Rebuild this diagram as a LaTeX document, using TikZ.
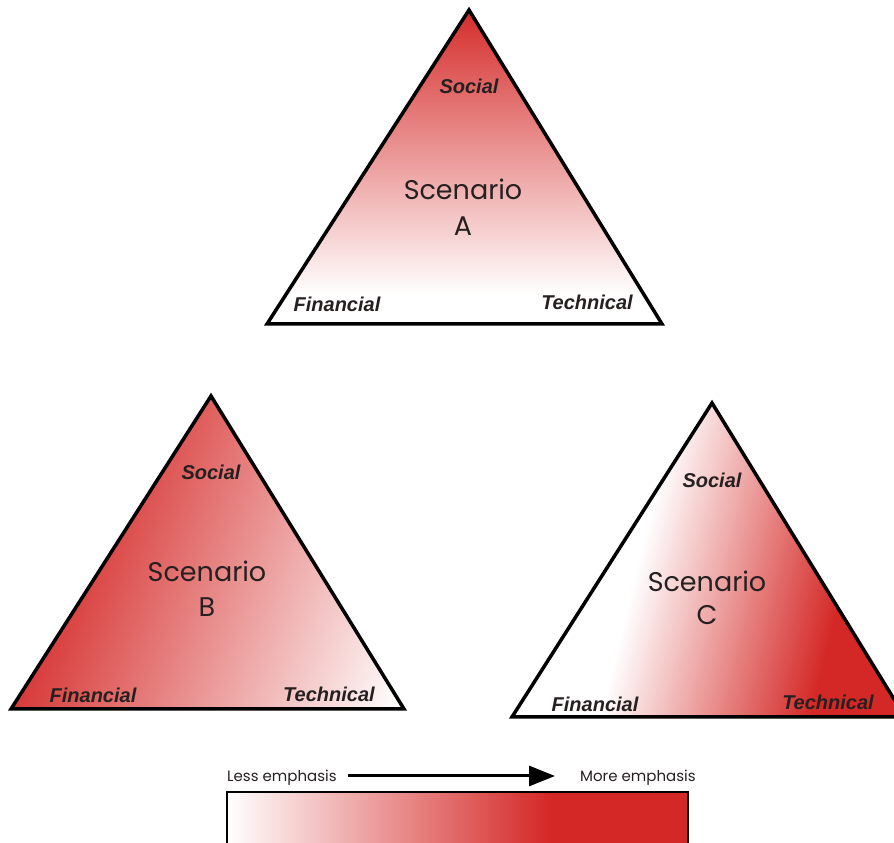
\documentclass[tikz,border=0pt]{standalone}
\usepackage{fontspec}
\setmainfont{Liberation Sans}
\newfontfamily\geo{Poppins}
\usetikzlibrary{arrows.meta}
\definecolor{myred}{RGB}{212,40,38}
\definecolor{txt}{RGB}{38,32,32}
\begin{document}
\begin{tikzpicture}[x=1pt,y=1pt,
  tri/.style={draw=black, line width=3.5pt, line join=miter},
  lbl/.style={font=\fontsize{20}{21}\selectfont\bfseries\itshape, text=txt, anchor=base, inner sep=0pt},
  scen/.style={font=\geo\fontsize{27}{30}\selectfont, text=txt, anchor=base, inner sep=0pt},
  leg/.style={font=\geo\fontsize{15}{16}\selectfont, text=txt, anchor=base west, inner sep=0pt}]
\useasboundingbox (0,0) rectangle (894,843);
\clip (0,0) rectangle (894,843);
% corners
\coordinate (Aa) at (469,833); \coordinate (Al) at (267,519); \coordinate (Ar) at (662,519);
\coordinate (Ba) at (211,447); \coordinate (Bl) at (11,134);  \coordinate (Br) at (404,134);
\coordinate (Ca) at (712,440); \coordinate (Cl) at (512,126); \coordinate (Cr) at (905,126);
% Triangle A
\begin{scope}
  \clip (Aa) -- (Al) -- (Ar) -- cycle;
  \shade[top color=myred, bottom color=white] (267,548) rectangle (662,840);
\end{scope}
\draw[tri] (Aa) -- (Al) -- (Ar) -- cycle;
% Triangle B
\begin{scope}
  \clip (Ba) -- (Bl) -- (Br) -- cycle;
  \fill[myred, transform canvas={shift={(0,843)}, rotate=-22}] (-600,-1200) rectangle (246,1200);
  \shade[transform canvas={shift={(0,843)}, rotate=-22}, left color=myred, right color=white] (245,-1200) rectangle (635,1200);
\end{scope}
\draw[tri] (Ba) -- (Bl) -- (Br) -- cycle;
% Triangle C
\begin{scope}
  \clip (Ca) -- (Cl) -- (Cr) -- cycle;
  \shade[transform canvas={shift={(0,843)}, rotate=-14}, left color=white, right color=myred] (755,-1200) rectangle (960,1200);
  \fill[myred, transform canvas={shift={(0,843)}, rotate=-14}] (959,-1200) rectangle (1600,1200);
\end{scope}
\draw[tri] (Ca) -- (Cl) -- (Cr) -- cycle;
% labels A
\node[lbl] (sA) at (469,749) {Social};
\node[lbl] (fA) at (337,531) {Financial};
\node[lbl] (tA) at (587,533) {Technical};
\node[scen] (scA) at (463,643) {Scenario};
\node[scen] (lA) at (463,607) {A};
% labels B
\node[lbl] (sB) at (211,363) {Social};
\node[lbl] (fB) at (93,140) {Financial};
\node[lbl] (tB) at (329,141) {Technical};
\node[scen] (scB) at (207,261) {Scenario};
\node[scen] (lB) at (207,226) {B};
% labels C
\node[lbl] (sC) at (712,355) {Social};
\node[lbl] (fC) at (595,131) {Financial};
\node[lbl] (tC) at (828,133) {Technical};
\node[scen] (scC) at (707,251) {Scenario};
\node[scen] (lC) at (707,218) {C};
% legend
\node[leg] (less) at (227,61) {Less emphasis};
\node[leg] (more) at (580,61) {More emphasis};
\coordinate (a1) at (348,67);
\coordinate (a2) at (555,67);
\draw[line width=3pt, -{Triangle[length=26pt,width=20pt]}] (a1) -- (a2);
\fill[myred] (549,-10) rectangle (688,51);
\shade[left color=white, right color=myred] (227,-10) rectangle (550,51);
\draw[line width=1.5pt] (227,-10) rectangle (688,51);
\end{tikzpicture}
\end{document}
